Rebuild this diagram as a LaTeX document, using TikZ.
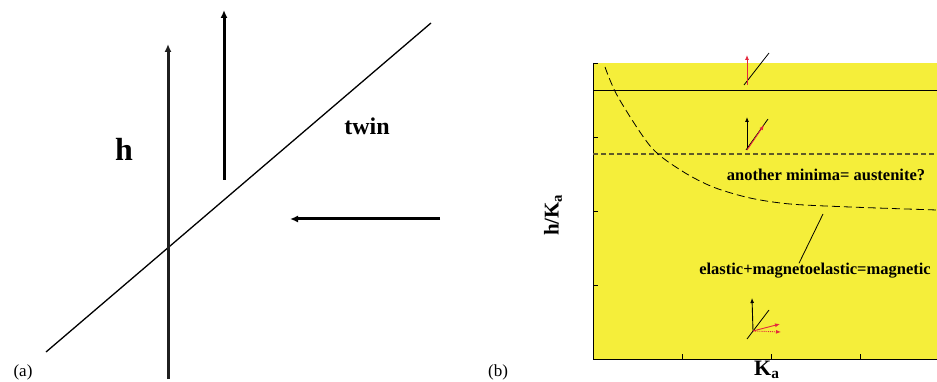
\documentclass[tikz,border=0pt]{standalone}
\usepackage{fontspec}
\setmainfont{Liberation Serif}
\usetikzlibrary{arrows.meta,positioning,calc}
\definecolor{plotyellow}{RGB}{245,238,58}
\definecolor{vecred}{RGB}{228,40,60}
\definecolor{darkolive}{RGB}{95,90,40}
\tikzset{
  lbl/.style={font=\bfseries\fontsize{16.5}{18}\selectfont, inner sep=0pt},
  panel/.style={font=\fontsize{17}{19}\selectfont, inner sep=0pt},
  field/.style={-{Latex[length=8pt,width=7pt]}, line width=3pt},
  wall/.style={line width=1.3pt},
  axis/.style={line width=1pt},
  tick/.style={line width=0.8pt},
  spin/.style={-{Latex[length=5pt,width=4pt]}, line width=0.9pt},
  magspin/.style={spin, vecred},
}
\begin{document}
\begin{tikzpicture}[x=1pt,y=-1pt]
  \useasboundingbox (0,0) rectangle (937,382);

  % (a) twin boundary and field
  \coordinate (wallA) at (46,352);
  \coordinate (wallB) at (431,23);
  \draw[wall] (wallA) -- (wallB);
  \coordinate (hlongS) at (168,379);
  \coordinate (hlongE) at (168,44);
  \draw[field, black!88] (hlongS) -- (hlongE);
  \coordinate (hupS) at (224,180);
  \coordinate (hupE) at (224,10);
  \draw[field] (hupS) -- (hupE);
  \coordinate (hleftS) at (440,219);
  \coordinate (hleftE) at (290,219);
  \draw[field] (hleftS) -- (hleftE);
  \node[font=\bfseries\fontsize{32}{34}\selectfont, inner sep=0pt] (hlab) at (124,149) {h};
  \node[font=\bfseries\fontsize{24}{26}\selectfont, inner sep=0pt] (twin) at (367,126) {twin};
  \node[panel] (pa) at (23,372) {(a)};

  % (b) phase diagram
  \fill[plotyellow] (593,63) rectangle (937,359);
  \coordinate (org) at (593,359);
  \draw[axis] (593,63) -- (org) -- (937,359);
  \foreach \y in {63,137,211,285}
    \draw[tick] (593,\y) -- (598,\y);
  \foreach \x in {682,771,860}
    \draw[tick] (\x,359) -- (\x,354);
  \draw[axis] (593,91) -- (937,91);
  \draw[darkolive, line width=1.3pt, dash pattern=on 5pt off 3pt] (593,154) -- (937,154);
  \draw[line width=0.8pt, dash pattern=on 8pt off 4pt]
    plot[smooth, tension=0.5] coordinates {(605,67) (618,97) (651,147) (682,171) (713,187) (750,198) (790,204) (850,207) (937,210)};
  \node[lbl] (austenite) at (826,175) {another minima= austenite?};
  \node[lbl] (magnetic) at (815,271) {elastic+magnetoelastic=magnetic};
  \coordinate (ptrA) at (823,214);
  \draw[line width=0.8pt] (ptrA) -- (magnetic.north -| 799,0);
  \node[rotate=90, font=\bfseries\fontsize{21}{23}\selectfont, inner sep=0pt] (ylab) at (553,215) {h/K\textsubscript{a}};
  \node[font=\bfseries\fontsize{22}{24}\selectfont, inner sep=0pt, anchor=north west] (xlab) at (754,361) {K\textsubscript{a}};
  \node[panel] (pb) at (498,372) {(b)};

  % spin sketches
  \coordinate (sA) at (747,85);
  \draw[line width=0.8pt] (744,85) -- (769,53);
  \draw[magspin] (sA) -- ++(0,-30);
  \coordinate (sB) at (747,150);
  \draw[spin] (sB) -- ++(0,-33);
  \draw[line width=0.8pt] (746,150) -- (768,119);
  \draw[magspin] (sB) -- (764,125);
  \coordinate (sC) at (753,331);
  \draw[spin] (sC) -- (752,298);
  \draw[line width=0.8pt] (747,339) -- (769,310);
  \draw[magspin] (sC) -- (780,324);
  \draw[magspin, densely dotted] (sC) -- (781,332);
\end{tikzpicture}
\end{document}
